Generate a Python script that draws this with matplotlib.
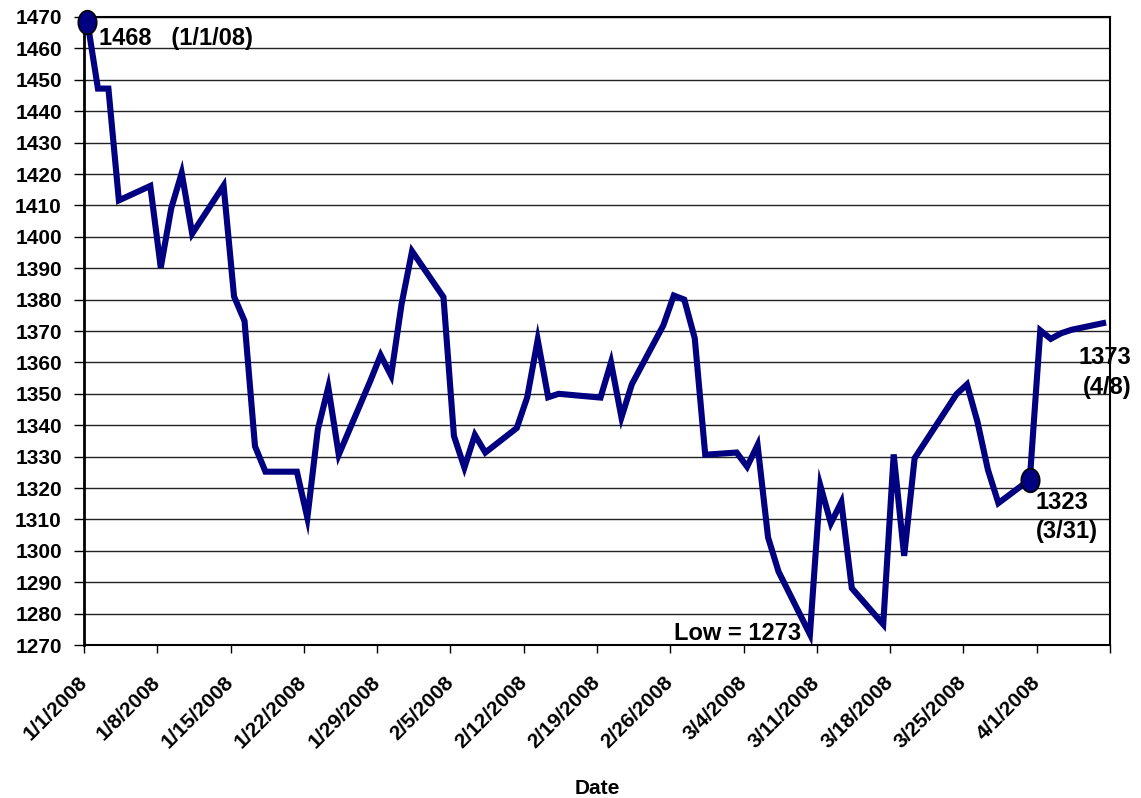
import matplotlib
matplotlib.use("Agg")
import matplotlib.pyplot as plt
import pandas as pd
from matplotlib.path import Path
from matplotlib.transforms import Affine2D, ScaledTranslation

# S&P 500 daily closes, Jan - Apr 2008
dates = [
    "2008-01-01", "2008-01-02", "2008-01-03", "2008-01-04", "2008-01-07",
    "2008-01-08", "2008-01-09", "2008-01-10", "2008-01-11", "2008-01-14",
    "2008-01-15", "2008-01-16", "2008-01-17", "2008-01-18", "2008-01-21",
    "2008-01-22", "2008-01-23", "2008-01-24", "2008-01-25", "2008-01-28",
    "2008-01-29", "2008-01-30", "2008-01-31", "2008-02-01", "2008-02-04",
    "2008-02-05", "2008-02-06", "2008-02-07", "2008-02-08", "2008-02-11",
    "2008-02-12", "2008-02-13", "2008-02-14", "2008-02-15", "2008-02-19",
    "2008-02-20", "2008-02-21", "2008-02-22", "2008-02-25", "2008-02-26",
    "2008-02-27", "2008-02-28", "2008-02-29", "2008-03-03", "2008-03-04",
    "2008-03-05", "2008-03-06", "2008-03-07", "2008-03-10", "2008-03-11",
    "2008-03-12", "2008-03-13", "2008-03-14", "2008-03-17", "2008-03-18",
    "2008-03-19", "2008-03-20", "2008-03-24", "2008-03-25", "2008-03-26",
    "2008-03-27", "2008-03-28", "2008-03-31", "2008-04-01", "2008-04-02",
    "2008-04-03", "2008-04-04", "2008-04-07",
]
closes = [
    1468.4, 1447.2, 1447.2, 1411.6, 1416.2,
    1390.2, 1409.1, 1420.3, 1401.0, 1416.3,
    1381.0, 1373.2, 1333.3, 1325.2, 1325.2,
    1310.5, 1338.6, 1352.1, 1330.6, 1354.0,
    1362.3, 1355.8, 1378.6, 1395.4, 1380.8,
    1336.6, 1326.5, 1336.9, 1331.3, 1339.1,
    1348.9, 1367.2, 1348.9, 1350.0, 1348.8,
    1360.0, 1342.5, 1353.1, 1371.8, 1381.3,
    1380.0, 1367.7, 1330.6, 1331.3, 1326.8,
    1333.7, 1304.3, 1293.4, 1273.4, 1320.7,
    1308.8, 1315.5, 1288.1, 1276.6, 1330.7,
    1298.4, 1329.5, 1349.9, 1353.0, 1341.1,
    1325.8, 1315.2, 1322.7, 1370.2, 1367.5,
    1369.3, 1370.4, 1372.5,
]
marked_dates = ["2008-01-01", "2008-03-31"]
marked_values = [1468.4, 1322.7]

x_start, x_end = "2008-01-01", "2008-04-08"
y_ticks = list(range(1270, 1471, 10))

NAVY = "#000080"
plt.rcParams["font.family"] = ["Liberation Sans", "DejaVu Sans"]
plt.rcParams["font.weight"] = "bold"

# Excel's date axis puts each point a bit inside its day
day_shift = pd.Timedelta(hours=8)
x = pd.to_datetime(dates) + day_shift

fig = plt.figure(figsize=(11.41, 7.98), dpi=100)
ax = fig.add_axes([0.0736, 0.1917, 0.8993, 0.787])

ax.plot(x, closes, color=NAVY, lw=4.4, solid_joinstyle="miter", zorder=3)

# elliptical markers
ellipse = Path.unit_circle().transformed(Affine2D().scale(0.78, 1.0))
ax.plot(pd.to_datetime(marked_dates) + day_shift, marked_values, ls="none",
        marker=ellipse, ms=17, mfc=NAVY, mec="black", mew=1.2, zorder=5,
        clip_on=False)

ax.set_xlim(pd.Timestamp(x_start), pd.Timestamp(x_end))
ax.set_ylim(1270, 1470)
ax.set_yticks(y_ticks)
ax.yaxis.grid(True, color="#222222", lw=1.0)
ax.set_axisbelow(True)

weeks = pd.date_range(x_start, x_end, freq="7D")
ax.set_xticks(weeks)
ax.set_xticklabels([f"{d.month}/{d.day}/{d.year}" for d in weeks[:-1]] + [""],
                   rotation=45, ha="right", va="center", rotation_mode="anchor",
                   fontsize=15, fontweight="bold")
shift = ScaledTranslation(-9 / 100, 0, fig.dpi_scale_trans)
for lbl in ax.get_xticklabels():
    lbl.set_transform(lbl.get_transform() + shift)
ax.tick_params(axis="x", length=6, width=1, pad=19)
ax.tick_params(axis="y", length=7, width=1, labelsize=15, pad=9)
for lbl in ax.get_yticklabels():
    lbl.set_fontweight("bold")

for side in ["top", "right", "bottom"]:
    ax.spines[side].set_linewidth(1.5)
ax.spines["left"].set_linewidth(2)

ax.set_xlabel("Date", fontsize=15, fontweight="bold", va="center")
ax.xaxis.set_label_coords(0.5, -0.2277)

ax.text(pd.Timestamp("2008-01-02 10:00"), 1463, "1468   (1/1/08)", fontsize=17,
        fontweight="bold", ha="left", va="center")
ax.text(pd.Timestamp("2008-03-09 12:00"), 1273.8, "Low = 1273", fontsize=17,
        fontweight="bold", ha="right", va="center")
ax.text(pd.Timestamp("2008-03-31 22:00"), 1315.5, "1323", fontsize=17,
        fontweight="bold", ha="left", va="center")
ax.text(pd.Timestamp("2008-03-31 22:00"), 1306, "(3/31)", fontsize=17,
        fontweight="bold", ha="left", va="center")
ax.text(pd.Timestamp("2008-04-10 00:00"), 1361.5, "1373", fontsize=17,
        fontweight="bold", ha="right", va="center", clip_on=False)
ax.text(pd.Timestamp("2008-04-10 00:00"), 1352, "(4/8)", fontsize=17,
        fontweight="bold", ha="right", va="center", clip_on=False)

fig.savefig("out.png", dpi=100)
